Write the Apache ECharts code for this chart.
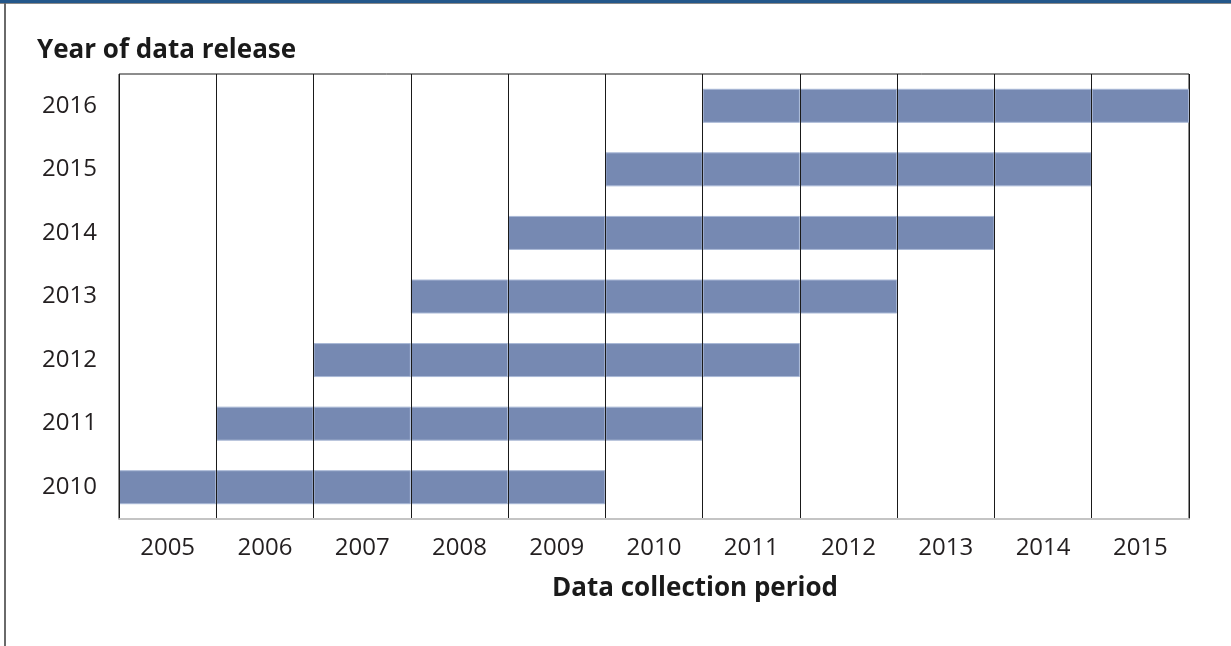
<!DOCTYPE html>
<html>
<head>
<meta charset="utf-8">
<script src="https://cdn.jsdelivr.net/npm/echarts@6/dist/echarts.min.js"></script>
<style>
html,body{margin:0;padding:0;background:#fff;}
#chart{width:1231px;height:646px;}
</style>
</head>
<body>
<div id="chart"></div>
<script>
// Data
const collectionYears = ['2005','2006','2007','2008','2009','2010','2011','2012','2013','2014','2015'];
const releaseYears = ['2010','2011','2012','2013','2014','2015','2016'];
const periodStart = [2005, 2006, 2007, 2008, 2009, 2010, 2011];
const periodEnd   = [2009, 2010, 2011, 2012, 2013, 2014, 2015];
const yTitle = 'Year of data release';
const xTitle = 'Data collection period';

const firstYear = Number(collectionYears[0]);
const FONT = '"Open Sans", "DejaVu Sans", sans-serif';

// offset (transparent) + one segment per year in each period
const offsetData = periodStart.map(s => s - firstYear);
const maxLen = Math.max(...periodEnd.map((e, i) => e - periodStart[i] + 1));
const segSeries = [];
for (let k = 0; k < maxLen; k++) {
  segSeries.push({
    type: 'bar', stack: 'p', xAxisIndex: 1, barWidth: 34,
    itemStyle: { color: '#7689b2', borderColor: '#a9b8d6', borderWidth: 1 },
    data: periodStart.map((s, i) => (periodEnd[i] - s + 1 > k ? 1 : 0)),
    silent: true
  });
}

const chart = echarts.init(document.getElementById('chart'), null, { renderer: 'canvas' });
chart.setOption({
  animation: false,
  backgroundColor: '#fff',
  grid: { left: 119, right: 42, top: 74, bottom: 127, show: true, borderColor: '#1a1a1a', borderWidth: 1, backgroundColor: 'transparent' },
  graphic: [
    { type: 'rect', shape: { x: 0, y: 0, width: 1231, height: 3 }, style: { fill: '#24578a' } },
    { type: 'rect', shape: { x: 0, y: 3, width: 1231, height: 1 }, style: { fill: '#8a8a8a' } },
    { type: 'rect', shape: { x: 4, y: 3, width: 2, height: 643 }, style: { fill: '#6a6a6a' } },
    { type: 'text', left: 37, top: 38, style: { text: yTitle, font: 'bold 26px ' + FONT, fill: '#1a1a1a' } },
    { type: 'text', x: 695, y: 589, style: { text: xTitle, font: 'bold 26px ' + FONT, fill: '#1a1a1a', align: 'center', verticalAlign: 'middle' } }
  ],
  xAxis: [
    {
      type: 'category', data: collectionYears, boundaryGap: true, position: 'bottom',
      axisLine: { show: true, lineStyle: { color: '#c4c4c4', width: 2 } },
      axisTick: { show: false },
      axisLabel: { fontSize: 24, fontFamily: FONT, color: '#231f20', margin: 17 },
      splitLine: { show: true, lineStyle: { color: '#1a1a1a', width: 1 } },
      z: 3
    },
    {
      type: 'value', min: 0, max: collectionYears.length, interval: 1, show: false,
      splitLine: { show: false }
    }
  ],
  yAxis: {
    type: 'category', data: releaseYears,
    axisLine: { show: false }, axisTick: { show: false },
    axisLabel: { fontSize: 24, fontFamily: FONT, color: '#231f20', margin: 22, padding: [4, 0, 0, 0] },
    splitLine: { show: false }
  },
  series: [
    {
      type: 'bar', stack: 'p', xAxisIndex: 1, barWidth: 34,
      itemStyle: { color: 'transparent' }, data: offsetData, silent: true
    },
    ...segSeries
  ]
});
</script>
</body>
</html>
